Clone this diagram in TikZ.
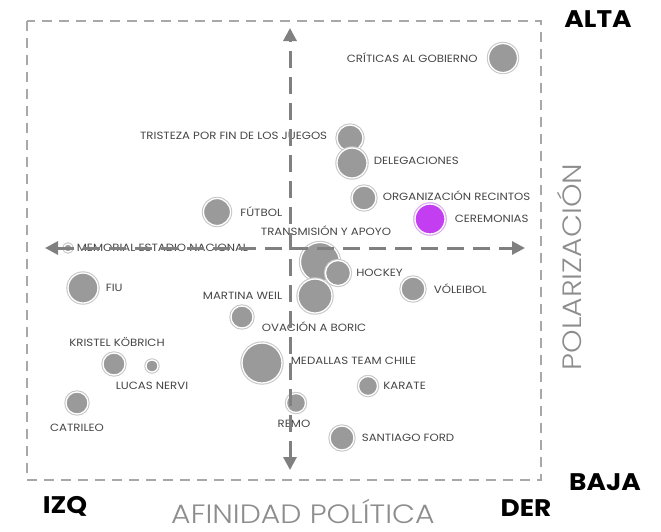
\documentclass[tikz,border=0pt]{standalone}
\usepackage{fontspec}
\setmainfont{Poppins}
\newfontfamily\lblfont{Poppins}[FakeStretch=1.12]
\newfontfamily\bigfont{Poppins}[FakeStretch=1.1]
\newfontfamily\thinfont{Poppins Light}[FakeStretch=1.13]
\usetikzlibrary{arrows.meta}
\usetikzlibrary{positioning}
\definecolor{bubfill}{HTML}{9A9A9A}
\definecolor{bubring}{HTML}{C6C6C6}
\definecolor{purfill}{HTML}{C23EF0}
\definecolor{purring}{HTML}{E2A6F4}
\definecolor{axisgray}{HTML}{808080}
\definecolor{framegray}{HTML}{A8A8A8}
\definecolor{lblgray}{HTML}{454545}

\begin{document}
\begin{tikzpicture}[%
        x=1pt, y=-1pt,
        every node/.style={inner sep=0pt},
        bub/.style={circle, fill=bubfill, draw=white, line width=1.3pt,
          preaction={draw=bubring, line width=3.4pt}, minimum size=#1},
        purbub/.style={bub=#1, fill=purfill, preaction={draw=purring, line width=3.4pt}},
        lbl/.style={text=lblgray, font=\lblfont\fontsize{10.5}{12}\selectfont},
        big/.style={anchor=base, font=\bigfont\fontsize{24}{26}\selectfont\bfseries},
        axisname/.style={anchor=base, text depth=0pt, text=axisgray!90, font=\thinfont\fontsize{26.5}{29}\selectfont},
        axis/.style={draw=axisgray, line width=3pt, dash pattern=on 17pt off 9pt,
          {Triangle[length=13pt,width=13pt]}-{Triangle[length=13pt,width=13pt]}},
        frame/.style={draw=framegray, line width=2pt, dash pattern=on 10pt off 7pt}
      ]
      \useasboundingbox (0,0) rectangle (661,531);
      \draw [frame] (27,21) rectangle (541,480);

      % bubbles
      \node [bub=29] (crit) at (503,58) {};
      \node [bub=26] (trist) at (350,138) {};
      \node [bub=30] (deleg) at (352,163) {};
      \node [bub=24] (orga) at (364,198) {};
      \node [purbub=30] (cere) at (430,219) {};
      \node [bub=27] (futb) at (217,212) {};
      \node [bub=8] (memo) at (68,248) {};
      \node [bub=39] (trans) at (320,262) {};
      \node [bub=25] (hock) at (338,273) {};
      \node [bub=34] (mart) at (315,296) {};
      \node [bub=22] (ovac) at (242,317) {};
      \node [bub=30] (fiu) at (83,288) {};
      \node [bub=22] (krist) at (114,364) {};
      \node [bub=12] (lucas) at (152,366) {};
      \node [bub=22] (catr) at (77,403) {};
      \node [bub=40] (medal) at (262,363) {};
      \node [bub=19] (remo) at (296,403) {};
      \node [bub=19] (karat) at (368,386) {};
      \node [bub=24] (santi) at (342,438) {};
      \node [bub=24] (voley) at (413,289) {};

      % labels
      \node [lbl, left=10pt of crit] (critl) {CRÍTICAS AL GOBIERNO};
      \node [lbl, left=9pt of trist, yshift=2pt] (tristl) {TRISTEZA POR FIN DE LOS JUEGOS};
      \node [lbl, right=6pt of deleg, yshift=2pt] (delegl) {DELEGACIONES};
      \node [lbl, right=6pt of orga, yshift=2pt] (orgal) {ORGANIZACIÓN RECINTOS};
      \node [lbl, right=9pt of cere] (cerel) {CEREMONIAS};
      \node [lbl, right=9pt of futb] (futbl) {FÚTBOL};
      \node [lbl, above=6pt of trans, xshift=6pt] (transl) {TRANSMISIÓN Y APOYO};
      \node [lbl, right=4pt of memo] (memol) {MEMORIAL ESTADIO NACIONAL};
      \node [lbl, right=5pt of hock] (hockl) {HOCKEY};
      \node [lbl, left=15pt of mart] (martl) {MARTINA WEIL};
      \node [lbl, right=8pt of ovac, yshift=-10pt] (ovacl) {OVACIÓN A BORIC};
      \node [lbl, right=7pt of fiu] (fiul) {FIU};
      \node [lbl, above=6pt of krist, xshift=3pt] (kristl) {KRISTEL KÖBRICH};
      \node [lbl, below=9pt of lucas] (lucasl) {LUCAS NERVI};
      \node [lbl, below=9pt of catr] (catrl) {CATRILEO};
      \node [lbl, right=8pt of medal, yshift=2pt] (medall) {MEDALLAS TEAM CHILE};
      \node [lbl, below=7pt of remo, xshift=-2pt] (remol) {REMO};
      \node [lbl, right=5pt of karat] (karatl) {KARATE};
      \node [lbl, right=7pt of santi] (santil) {SANTIAGO FORD};
      \node [lbl, right=8pt of voley] (voleyl) {VÓLEIBOL};

      % axes
      \coordinate (n) at (290,28);
      \coordinate (s) at (290,470);
      \coordinate (w) at (45,248);
      \coordinate (e) at (525,248);
      \draw [axis] (w) -- (e);
      \draw [axis] (s) -- (n);

      \node [big] (alta) at (598,27) {ALTA};
      \node [big] (baja) at (605,490) {BAJA};
      \node [big] (izq) at (65,513) {IZQ};
      \node [big] (der) at (526,516) {DER};
      \node [axisname, rotate=90] (pol) at (581,267) {POLARIZACIÓN};
      \node [axisname] (afin) at (303,523) {AFINIDAD POLÍTICA};
    \end{tikzpicture}
\end{document}
